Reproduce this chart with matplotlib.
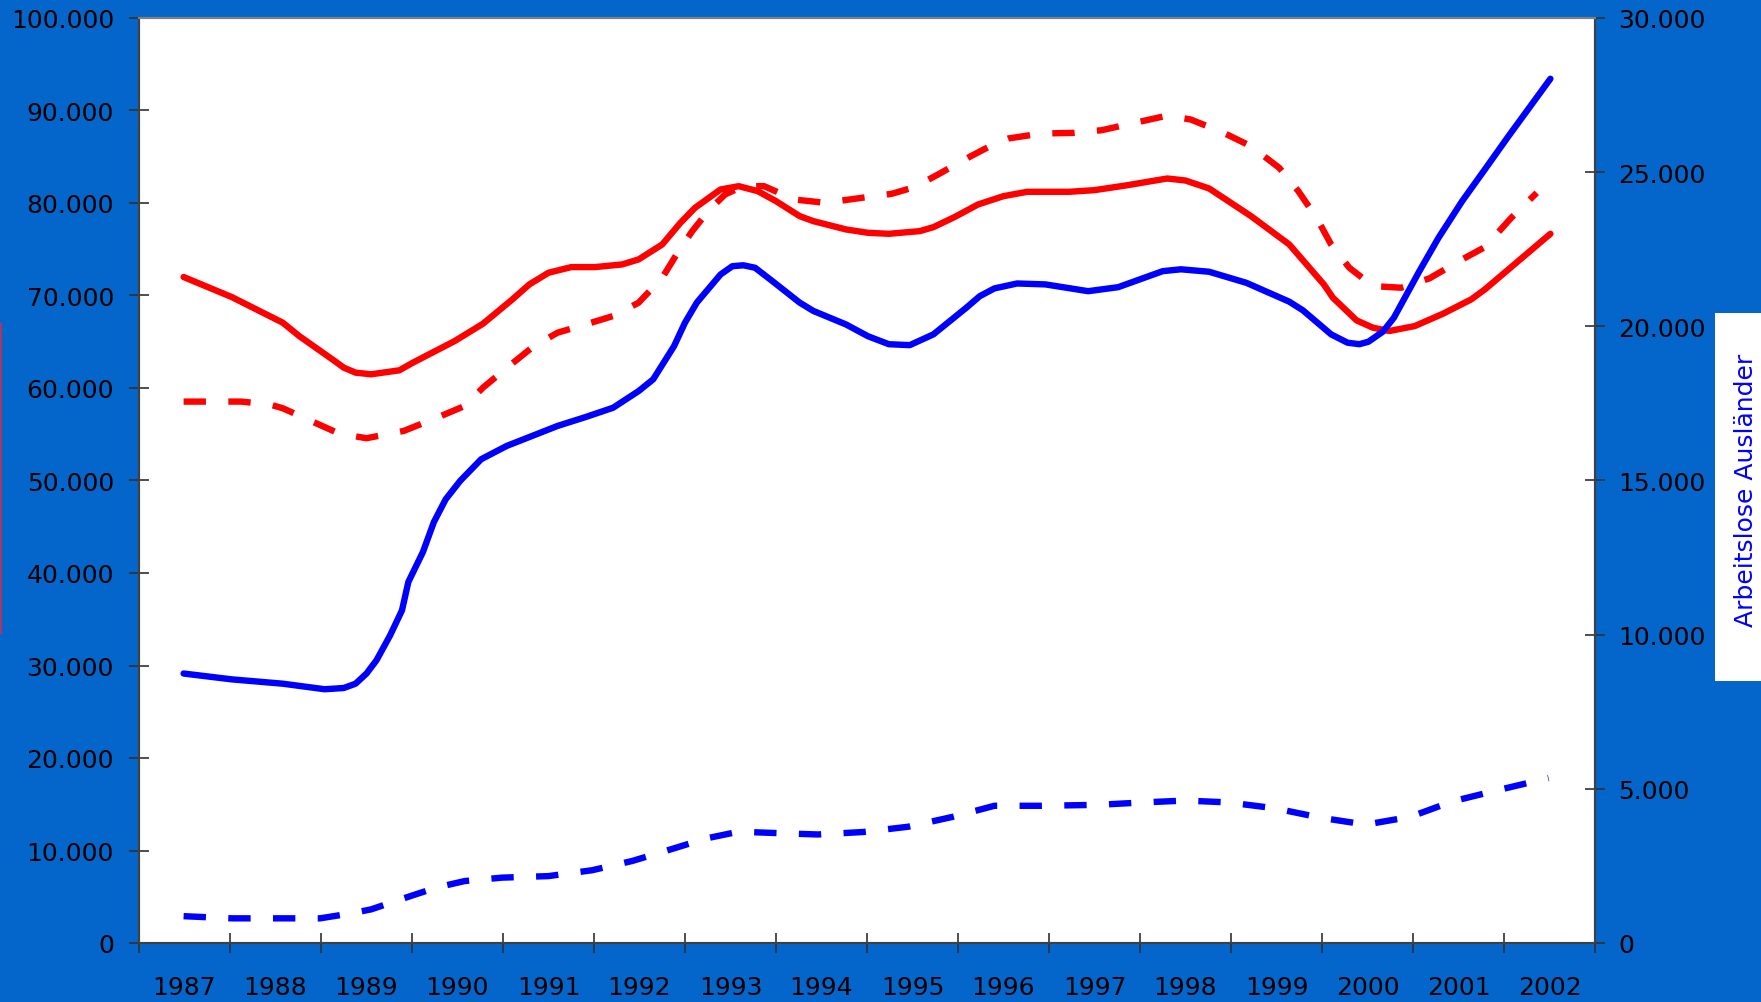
"""Arbeitslose Deutsche / Ausländer 1987-2002."""

import numpy as np
import matplotlib
matplotlib.use("Agg")
import matplotlib.pyplot as plt
from matplotlib.patches import Rectangle
from matplotlib.ticker import FuncFormatter

# --- data --------------------------------------------------------------
years = list(range(1987, 2003))

# left axis, red solid
red_solid_x = [1987.49, 1988.02, 1988.58, 1988.76, 1989.15, 1989.25, 1989.38,
               1989.55, 1989.86, 1990.01, 1990.47, 1990.78, 1991.09, 1991.29,
               1991.50, 1991.75, 1992.01, 1992.31, 1992.49, 1992.75, 1992.95,
               1993.11, 1993.39, 1993.59, 1993.80, 1994.00, 1994.26, 1994.41,
               1994.77, 1995.01, 1995.24, 1995.58, 1995.73, 1995.96, 1996.22,
               1996.50, 1996.76, 1997.22, 1997.50, 1997.84, 1998.30, 1998.50,
               1998.76, 1999.22, 1999.64, 2000.02, 2000.12, 2000.38, 2000.56,
               2000.74, 2001.02, 2001.33, 2001.64, 2001.79, 2002.51]
red_solid = [72000, 69830, 67060, 65620, 62920, 62200, 61660, 61480, 61910,
             62740, 65080, 66950, 69470, 71200, 72460, 73070, 73070, 73360,
             73900, 75520, 77860, 79480, 81460, 81820, 81280, 80200, 78580,
             78040, 77140, 76780, 76670, 76960, 77390, 78470, 79840, 80740,
             81210, 81210, 81390, 81890, 82650, 82430, 81570, 78580, 75520,
             71200, 69760, 67310, 66520, 66160, 66700, 68030, 69580, 70660,
             76670]

# left axis, red dashed
red_dash_x = [1987.49, 1988.12, 1988.43, 1988.58, 1988.89, 1989.20, 1989.50,
              1989.91, 1990.32, 1990.58, 1990.78, 1991.09, 1991.34, 1991.60,
              1991.91, 1992.21, 1992.49, 1992.75, 1992.93, 1993.08, 1993.26,
              1993.44, 1993.64, 1993.87, 1994.20, 1994.54, 1994.89, 1995.27,
              1995.52, 1995.78, 1996.12, 1996.40, 1996.55, 1996.91, 1997.27,
              1997.58, 1997.94, 1998.30, 1998.56, 1998.92, 1999.22, 1999.53,
              1999.74, 1999.94, 2000.10, 2000.30, 2000.56, 2000.87, 2001.18,
              2001.54, 2001.79, 2002.08, 2002.36]
red_dash = [58530, 58530, 58240, 57810, 56440, 55070, 54570, 55360, 56980,
            58060, 60040, 62560, 64540, 65980, 66880, 67780, 69220, 71920,
            74800, 76960, 79190, 80920, 81820, 81820, 80380, 80020, 80490,
            80990, 81710, 83080, 84950, 86390, 86970, 87510, 87580, 87870,
            88660, 89450, 89020, 87580, 86140, 83800, 81280, 78400, 75520,
            73000, 71020, 70840, 71850, 73900, 75230, 78400, 81100]

# right axis, blue solid
blue_solid_x = [1987.49, 1988.02, 1988.58, 1989.04, 1989.25, 1989.38, 1989.50,
                1989.61, 1989.76, 1989.89, 1989.96, 1990.12, 1990.24, 1990.37,
                1990.53, 1990.76, 1991.04, 1991.29, 1991.60, 1991.91, 1992.21,
                1992.49, 1992.65, 1992.88, 1993.00, 1993.13, 1993.39, 1993.52,
                1993.64, 1993.77, 1993.95, 1994.26, 1994.41, 1994.77, 1995.01,
                1995.24, 1995.47, 1995.73, 1996.09, 1996.24, 1996.40, 1996.65,
                1996.96, 1997.43, 1997.76, 1998.25, 1998.45, 1998.76, 1999.17,
                1999.64, 1999.79, 2000.10, 2000.28, 2000.41, 2000.51, 2000.67,
                2000.79, 2001.07, 2001.28, 2001.54, 2001.79, 2002.05, 2002.51]
blue_solid = [8740, 8550, 8410, 8230, 8270, 8410, 8740, 9170, 9980, 10790,
              11710, 12680, 13650, 14390, 14990, 15690, 16120, 16410, 16770,
              17060, 17360, 17900, 18280, 19360, 20120, 20770, 21680, 21950,
              21980, 21900, 21490, 20770, 20500, 20060, 19680, 19420, 19390,
              19740, 20600, 20980, 21230, 21390, 21360, 21140, 21270, 21790,
              21850, 21770, 21410, 20800, 20520, 19740, 19470, 19420, 19500,
              19830, 20280, 21790, 22870, 24060, 25090, 26170, 28030]

# right axis, blue dashed
blue_dash_x = [1987.49, 1988.02, 1988.53, 1988.99, 1989.33, 1989.55, 1989.91,
               1990.27, 1990.58, 1990.99, 1991.50, 1991.98, 1992.42, 1992.88,
               1993.23, 1993.59, 1994.15, 1994.46, 1994.96, 1995.45, 1995.94,
               1996.40, 1996.91, 1997.53, 1998.04, 1998.50, 1998.97, 1999.48,
               1999.99, 2000.48, 2000.97, 2001.43, 2001.95, 2002.49]
blue_dash = [870, 800, 800, 800, 960, 1090, 1450, 1800, 2010, 2120, 2170,
             2360, 2660, 3070, 3390, 3610, 3550, 3520, 3600, 3770, 4090, 4450,
             4450, 4480, 4560, 4620, 4560, 4370, 4060, 3840, 4090, 4590, 4970,
             5350]

bg = "#0466CA"
red = "#FF0000"
blue = "#0000FF"


def de_fmt(v, pos=None):
    if v == 0:
        return "0"
    return "{:,.0f}".format(v).replace(",", ".")


fig = plt.figure(figsize=(17.61, 10.03), dpi=100, facecolor=bg)
ax = fig.add_axes([139 / 1761, 59 / 1003, 1456 / 1761, 925 / 1003])
ax.set_facecolor("white")
ax2 = ax.twinx()

lw = 4.6
ax.plot(red_solid_x, red_solid, color=red, lw=lw, solid_capstyle="round",
        solid_joinstyle="round")
ax.plot(red_dash_x, red_dash, color=red, lw=lw, dashes=(3.5, 3.5))
ax2.plot(blue_solid_x, blue_solid, color=blue, lw=lw, solid_capstyle="round",
         solid_joinstyle="round")
ax2.plot(blue_dash_x, blue_dash, color=blue, lw=lw, dashes=(3.5, 3.5))

ax.set_xlim(1987, 2003)
ax.set_ylim(0, 100000)
ax2.set_ylim(0, 30000)

ax.set_xticks(np.arange(1987, 2004))
ax.set_xticklabels([])
ax.set_xticks(np.array(years) + 0.5, minor=True)
ax.set_xticklabels([str(y) for y in years], minor=True)
ax.tick_params(axis="x", which="major", direction="inout", length=14,
               width=1.2, color="#303030")
ax.tick_params(axis="x", which="minor", length=0, pad=23, labelsize=18)

ax.set_yticks(np.arange(0, 100001, 10000))
ax.yaxis.set_major_formatter(FuncFormatter(de_fmt))
ax.tick_params(axis="y", direction="inout", length=14, width=1.2,
               color="#303030", pad=11, labelsize=18)

ax2.set_yticks(np.arange(0, 30001, 5000))
ax2.yaxis.set_major_formatter(FuncFormatter(de_fmt))
ax2.tick_params(axis="y", direction="inout", length=14, width=1.2,
                color="#303030", pad=10, labelsize=18)

for a in (ax, ax2):
    for s in a.spines.values():
        s.set_color("#404040")
        s.set_linewidth(1.5)
    a.spines["top"].set_color("#808080")

# right-hand axis title on a white box (clipped by the figure edge)
fig.patches.append(Rectangle((1715 / 1761, 1 - 682 / 1003), 60 / 1761,
                             368 / 1003, transform=fig.transFigure,
                             facecolor="white", edgecolor="none", zorder=0))
fig.text(1746 / 1761, 1 - 490 / 1003, "Arbeitslose Ausländer", rotation=90,
         color=blue, ha="center", va="center", fontsize=18)

# sliver of the clipped left-hand title box
fig.patches.append(Rectangle((0, 1 - 635 / 1003), 1.5 / 1761, 311 / 1003,
                             transform=fig.transFigure, facecolor="#A03A6A",
                             edgecolor="none"))

fig.savefig("out.png", dpi=100, facecolor=bg)
